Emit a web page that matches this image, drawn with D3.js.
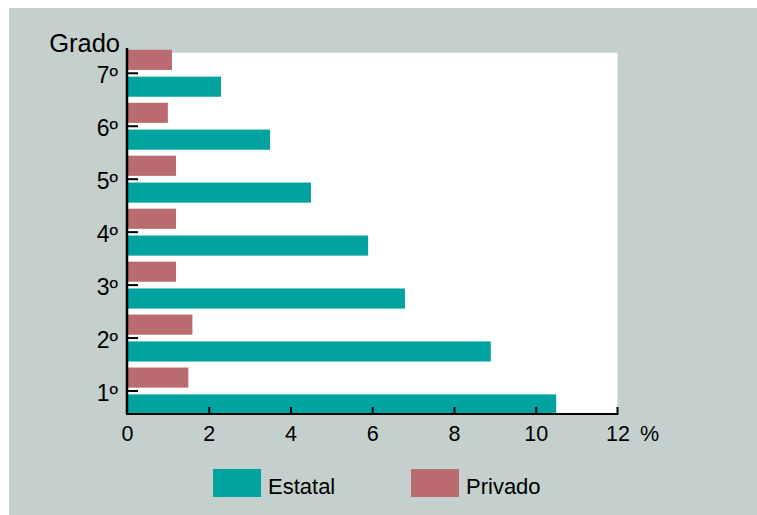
<!DOCTYPE html>
<html><head><meta charset="utf-8">
<script src="https://cdn.jsdelivr.net/npm/d3@7"></script>
<style>html,body{margin:0;padding:0;background:#fff;}svg{display:block;}</style>
</head><body>
<script>
const grades = ["1º","2º","3º","4º","5º","6º","7º"];
const estatal = [10.5, 8.9, 6.8, 5.9, 4.5, 3.5, 2.3];
const privado = [1.5, 1.6, 1.2, 1.2, 1.2, 1.0, 1.1];
const xTicks = [0, 2, 4, 6, 8, 10, 12];
const seriesNames = ["Estatal", "Privado"];
const colors = {Estatal: "#00a39f", Privado: "#b96b70"};

const W = 757, H = 515;
const FONT = "'Liberation Sans', Arial, Helvetica, sans-serif";
const svg = d3.select("body").append("svg").attr("width", W).attr("height", H)
  .style("font-family", FONT);

svg.append("rect").attr("x", 9).attr("y", 8).attr("width", W - 9).attr("height", H - 8).attr("fill", "#c4d0cd");

const x0 = 127, x1 = 617.5, yAxis = 414;
const x = d3.scaleLinear().domain([0, 12]).range([x0, x1]);
const y = d3.scaleBand().domain(grades).range([417.5, 46.8]).padding(0);
const inner = d3.scaleBand().domain(["Privado", "Estatal"]).range([3, y.bandwidth() - 3]).paddingInner(0.25);

// white plot area
svg.append("rect").attr("x", x0).attr("y", 52.7).attr("width", x1 - x0).attr("height", yAxis - 52.7).attr("fill", "#fff");

const data = grades.map((g, i) => ({g, Estatal: estatal[i], Privado: privado[i]}));
const grp = svg.append("g").selectAll("g").data(data).join("g")
  .attr("transform", d => `translate(0,${y(d.g)})`);
grp.selectAll("rect").data(d => ["Privado", "Estatal"].map(k => ({k, v: d[k]}))).join("rect")
  .attr("x", x(0)).attr("y", d => inner(d.k)).attr("height", inner.bandwidth())
  .attr("width", d => x(d.v) - x(0)).attr("fill", d => colors[d.k]);

// x axis
const xa = svg.append("g").attr("transform", `translate(0,${yAxis})`)
  .call(d3.axisBottom(x).tickValues(xTicks).tickSize(-7).tickFormat(d3.format("d")));
xa.select(".domain").attr("d", `M${x0},-7V0H${x1}V-7`).attr("stroke", "#000").attr("stroke-width", 2);
xa.selectAll(".tick line").attr("stroke", "#000").attr("stroke-width", 2);
xa.selectAll(".tick").filter(d => d === 0 || d === 12).select("line").remove();
xa.selectAll(".tick text").attr("font-size", 21.5).attr("fill", "#000").attr("font-family", FONT)
  .attr("y", 27).attr("dy", null);
svg.append("text").attr("x", 640).attr("y", 441).attr("font-size", 21.5).text("%");

// y axis
const ya = svg.append("g").attr("transform", `translate(${x0},0)`)
  .call(d3.axisLeft(y).tickSize(-11).tickPadding(9));
ya.select(".domain").attr("d", `M0,48V${yAxis}`).attr("stroke", "#000").attr("stroke-width", 2.5);
ya.selectAll(".tick line").attr("stroke", "#000").attr("stroke-width", 2);
ya.selectAll(".tick text").attr("font-size", 23).attr("fill", "#000").attr("dy", "0.43em")
  .attr("font-family", FONT);
svg.append("text").attr("x", 120).attr("y", 52).attr("text-anchor", "end").attr("font-size", 25.5).text("Grado");

// legend
const legendX = [213, 411];
seriesNames.forEach((s, i) => {
  svg.append("rect").attr("x", legendX[i]).attr("y", 469).attr("width", 48).attr("height", 28).attr("fill", colors[s]);
  svg.append("text").attr("x", legendX[i] + 55).attr("y", 494).attr("font-size", 22).text(s);
});
</script>
</body></html>
